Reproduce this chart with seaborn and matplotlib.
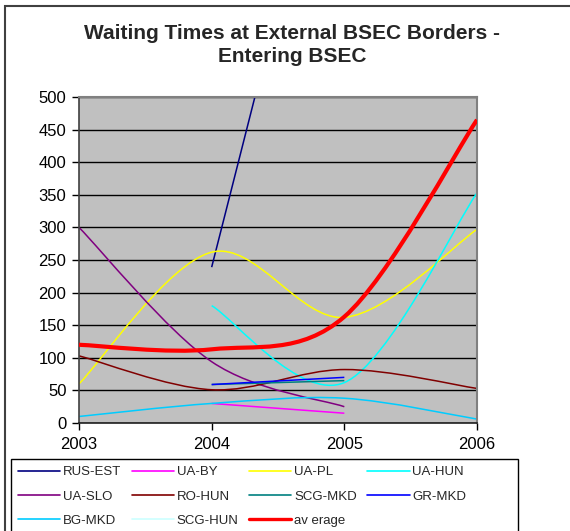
import numpy as np
import pandas as pd
import matplotlib
matplotlib.use('Agg')
import matplotlib.pyplot as plt
import seaborn as sns
from matplotlib.path import Path
from matplotlib.patches import PathPatch, Rectangle
from matplotlib.lines import Line2D

years = [2003, 2004, 2005, 2006]
series_names = ['RUS-EST', 'UA-BY', 'UA-PL', 'UA-HUN', 'UA-SLO', 'RO-HUN',
                'SCG-MKD', 'GR-MKD', 'BG-MKD', 'SCG-HUN', 'av erage']
rus_est = [np.nan, 239, 1040, np.nan]
ua_by = [np.nan, 30, 15, np.nan]
ua_pl = [60, 262, 162, 297]
ua_hun = [np.nan, 180, 62, 353]
ua_slo = [300, 94, 25, np.nan]
ro_hun = [103, 51, 82, 53]
scg_mkd = [np.nan, 59, 65, np.nan]
gr_mkd = [np.nan, 59, 70, np.nan]
bg_mkd = [10, 30, 38, 6]
scg_hun = [np.nan, np.nan, np.nan, np.nan]
average = [120, 113, 163, 465]
values = [rus_est, ua_by, ua_pl, ua_hun, ua_slo, ro_hun,
          scg_mkd, gr_mkd, bg_mkd, scg_hun, average]
colors = ['#000080', '#FF00FF', '#FFFF00', '#00FFFF', '#800080', '#800000',
          '#008080', '#0000FF', '#00CCFF', '#CCFFFF', '#FF0000']
yticks = list(range(0, 501, 50))

sns.set_style('white')
plt.rcParams['font.family'] = ['Liberation Sans', 'DejaVu Sans']

fig = plt.figure(figsize=(5.7, 5.31), dpi=100)
ax = fig.add_axes([79 / 570, 1 - 423 / 531, 398 / 570, 326 / 531])
ax.set_facecolor('#C0C0C0')


def smooth_path(xs, ys):
    # Excel-style smoothed line: cubic bezier through the points
    pts = np.column_stack([xs, ys])
    verts = [pts[0]]
    codes = [Path.MOVETO]
    n = len(pts)
    for i in range(n - 1):
        p_prev = pts[i - 1] if i > 0 else pts[i]
        p_next = pts[i + 2] if i + 2 < n else pts[i + 1]
        c1 = pts[i] + (pts[i + 1] - p_prev) / 6
        c2 = pts[i + 1] - (p_next - pts[i]) / 6
        verts += [c1, c2, pts[i + 1]]
        codes += [Path.CURVE4] * 3
    return Path(verts, codes)


handles = []
for name, vals, c in zip(series_names, values, colors):
    lw = 3.0 if name == 'av erage' else 1.1
    df = pd.DataFrame({'year': years, 'value': vals}).dropna()
    if len(df) > 0:
        sns.lineplot(data=df, x='year', y='value', color=c, lw=lw, ax=ax)
        line = ax.lines[-1]
        line.set_visible(False)
        x, y = line.get_data()
        ax.add_patch(PathPatch(smooth_path(np.asarray(x, float), np.asarray(y, float)),
                               facecolor='none', edgecolor=c, lw=lw,
                               capstyle='butt', zorder=3 if name == 'av erage' else 2))
    handles.append(Line2D([], [], color=c, lw=2.4 if name == 'av erage' else 1.2, label=name))

ax.set_xlim(2003, 2006)
ax.set_ylim(0, 500)
ax.set_xticks(years)
ax.set_xticklabels([str(y) for y in years])
ax.set_yticks(yticks)
ax.set_xlabel('')
ax.set_ylabel('')
ax.yaxis.grid(True, color='black', lw=1.0)
ax.xaxis.grid(False)
ax.set_axisbelow(True)
ax.tick_params(axis='both', labelsize=12, colors='black', length=5, width=1,
               direction='out', left=True, bottom=True)
ax.tick_params(axis='y', pad=4)
ax.tick_params(axis='x', pad=5)
for s in ['top', 'right']:
    ax.spines[s].set_color('#808080')
    ax.spines[s].set_linewidth(1.5)
ax.spines['left'].set_color('#404040')
ax.spines['bottom'].set_color('#202020')
ax.spines['left'].set_linewidth(1.2)
ax.spines['bottom'].set_linewidth(1.2)

fig.text(292 / 570, 1 - 24 / 531, 'Waiting Times at External BSEC Borders -\nEntering BSEC',
         ha='center', va='top', fontsize=15, fontweight='bold', linespacing=1.3)

# matplotlib fills legend columns first; reorder so it reads row by row
order = [0, 4, 8, 1, 5, 9, 2, 6, 10, 3, 7]
leg = fig.legend(handles=[handles[i] for i in order], ncol=4, loc='upper left',
                 bbox_to_anchor=(11 / 570, 1 - 459 / 531),
                 fontsize=9.5, frameon=False, handlelength=3.2, handletextpad=0.2,
                 columnspacing=0.8, labelspacing=0.9, borderaxespad=0, borderpad=0.55)

# legend box and chart-area border
fig.add_artist(Rectangle((11 / 570, -0.1), 507 / 570, 1 - 459 / 531 + 0.1,
                         transform=fig.transFigure, facecolor='none',
                         edgecolor='black', lw=1.0))
fig.add_artist(Rectangle((5 / 570, -0.1), 1.2, 1 - 6 / 531 + 0.1, transform=fig.transFigure,
                         facecolor='none', edgecolor='#404040', lw=1.5))

fig.savefig('out.png', dpi=100)
